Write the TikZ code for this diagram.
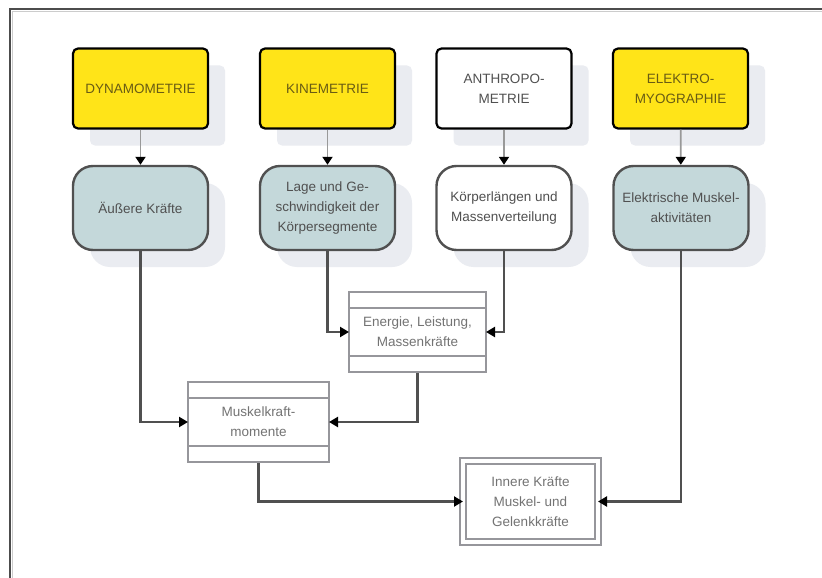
\documentclass[tikz,border=0pt]{standalone}
\usepackage{fontspec}
\setmainfont{Liberation Sans}
\usetikzlibrary{arrows.meta,shadows}
\definecolor{yfill}{RGB}{255,228,24}
\definecolor{otext}{RGB}{105,92,20}
\definecolor{tfill}{RGB}{196,216,218}
\definecolor{shad}{RGB}{234,236,241}
\definecolor{dtext}{RGB}{80,80,80}
\definecolor{mtext}{RGB}{115,115,115}
\definecolor{mline}{RGB}{150,150,155}
\definecolor{conn}{RGB}{80,80,80}
\tikzset{
  txt/.style={align=center,font=\fontsize{13.5}{20}\selectfont},
  shadowed/.style={drop shadow={shadow xshift=17pt,shadow yshift=-17pt,fill=shad,opacity=1}},
  topbox/.style={txt,shadowed,draw=black,line width=2.2pt,rounded corners=5pt,
    minimum width=135pt,minimum height=80pt,inner sep=2pt},
  ybox/.style={topbox,fill=yfill,text=otext},
  wbox/.style={topbox,fill=white,text=dtext},
  rbox/.style={txt,shadowed,draw=conn,line width=2.4pt,rounded corners=20pt,
    minimum width=135pt,minimum height=84pt,inner sep=2pt,fill=tfill,text=dtext},
  rwbox/.style={rbox,fill=white},
  mbox/.style={txt,draw=mline,line width=2pt,fill=white,text=mtext,
    minimum width=137pt,minimum height=80pt,
    path picture={
      \draw[mline,line width=2pt]
        ([yshift=-16pt]path picture bounding box.north west) -- ([yshift=-16pt]path picture bounding box.north east)
        ([yshift=16pt]path picture bounding box.south west) -- ([yshift=16pt]path picture bounding box.south east);
    }},
  dbox/.style={txt,draw=mline,line width=2pt,double=white,double distance=4pt,fill=white,text=mtext,
    minimum width=135pt,minimum height=81pt},
  conn/.style={draw=conn,line width=2.6pt,-{Triangle[length=9pt,width=10pt,color=black]},shorten >=-1pt},
  vconn/.style={draw=gray!80,line width=1.8pt,-{Triangle[length=8pt,width=10pt,color=black]}},
}
\begin{document}
\begin{tikzpicture}[x=1pt,y=-1pt]
\useasboundingbox (0,0) rectangle (822,578);
\fill[white] (0,0) rectangle (822,578);
% frame
\draw[line width=2pt,gray!60!black] (10,578) -- (10,9) -- (822,9);
\draw[line width=1pt,gray!40] (12.5,578) -- (12.5,11.5) -- (822,11.5);

% top row
\node[ybox] (dyn)  at (140.5,88.5) {DYNAMOMETRIE};
\node[ybox] (kin)  at (327.5,88.5) {KINEMETRIE};
\node[wbox] (anth) at (504,88.5) {ANTHROPO-\\METRIE};
\node[ybox] (emg)  at (680.5,88.5) {ELEKTRO-\\MYOGRAPHIE};

% second row
\node[rbox]  (kraft) at (140.5,208) {Äußere Kräfte};
\node[rbox]  (lage)  at (327.5,208) {Lage und Ge-\\schwindigkeit der\\Körpersegmente};
\node[rwbox] (koerp) at (504,208) {Körperlängen und\\Massenverteilung};
\node[rbox]  (akt)   at (681,208) {Elektrische Muskel-\\aktivitäten};

% middle
\node[mbox] (energ) at (417.5,332) {Energie, Leistung,\\Massenkräfte};
\node[mbox,minimum width=141pt] (musk) at (258.5,422) {Muskelkraft-\\momente};
\node[dbox] (inner) at (530.5,501.5) {Innere Kräfte\\Muskel- und\\Gelenkkräfte};

% vertical arrows
\draw[vconn] (dyn) -- (kraft);
\draw[vconn] (kin) -- (lage);
\draw[vconn] (anth) -- (koerp);
\draw[vconn] (emg) -- (akt);

% connectors
\draw[conn] (kraft.south) |- (musk.west);
\draw[conn] (lage.south) |- (energ.west);
\draw[conn] (koerp.south) |- (energ.east);
\draw[conn] (energ.south) |- (musk.east);
\draw[conn] (musk.south) |- (inner.west);
\draw[conn] (akt.south) |- (inner.east);
\end{tikzpicture}
\end{document}
